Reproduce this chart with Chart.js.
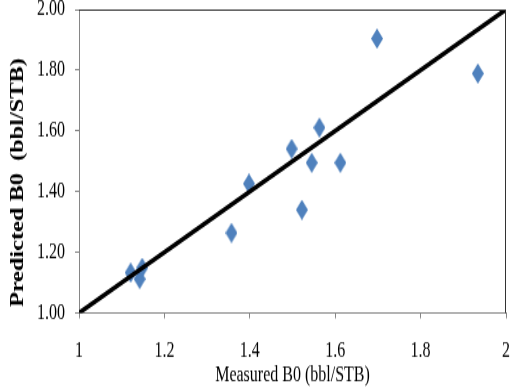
<!DOCTYPE html>
<html><head><meta charset="utf-8">
<script src="https://cdn.jsdelivr.net/npm/chart.js@4"></script>
<style>html,body{margin:0;padding:0;background:#fff;overflow:hidden}canvas{display:block}</style>
</head>
<body>
<canvas id="c" width="511" height="287" style="width:511px;height:388px"></canvas>
<script>
const measured  = [1.121, 1.142, 1.148, 1.357, 1.398, 1.498, 1.522, 1.545, 1.563, 1.612, 1.698, 1.934];
const predicted = [1.133, 1.112, 1.149, 1.264, 1.426, 1.541, 1.340, 1.495, 1.611, 1.495, 1.904, 1.789];
const refLineX = [1, 2];
const refLineY = [1, 2];
const xTicks = [1, 1.2, 1.4, 1.6, 1.8, 2];
const yTicks = [1.0, 1.2, 1.4, 1.6, 1.8, 2.0];
const xTitle = 'Measured B0 (bbl/STB)';
const yTitle = 'Predicted B0  (bbl/STB)';

// diamond marker (tall)
const marker = document.createElement('canvas');
marker.width = 12; marker.height = 15;
(function(){
  const g = marker.getContext('2d');
  g.fillStyle = '#4F81BD';
  g.beginPath();
  g.moveTo(6, 0); g.lineTo(12, 7.5); g.lineTo(6, 15); g.lineTo(0, 7.5);
  g.closePath(); g.fill();
})();

const FONT = 'Liberation Serif, Times New Roman, serif';

const borderPlugin = {
  id: 'frame',
  afterDraw(chart) {
    const {ctx, chartArea: a} = chart;
    ctx.save();
    ctx.strokeStyle = '#333';
    ctx.lineWidth = 1;
    ctx.beginPath();
    ctx.moveTo(a.left, a.top + 0.5); ctx.lineTo(a.right, a.top + 0.5);
    ctx.moveTo(a.right - 0.5, a.top); ctx.lineTo(a.right - 0.5, a.bottom);
    ctx.stroke();
    ctx.restore();
  }
};

new Chart(document.getElementById('c'), {
  type: 'scatter',
  data: {
    datasets: [
      {
        type: 'line',
        data: refLineX.map((x, i) => ({x, y: refLineY[i]})),
        borderColor: '#000',
        borderWidth: 3.5,
        pointRadius: 0,
        fill: false,
        order: 0
      },
      {
        data: measured.map((x, i) => ({x, y: predicted[i]})),
        pointStyle: marker,
        backgroundColor: '#4F81BD',
        borderColor: '#4F81BD',
        order: 1
      }
    ]
  },
  options: {
    responsive: false,
    animation: false,
    devicePixelRatio: 1,
    layout: {padding: {top: 7, right: 1.5, bottom: 0, left: 0}},
    plugins: {legend: {display: false}, tooltip: {enabled: false}},
    scales: {
      x: {
        type: 'linear', min: 1, max: 2,
        afterBuildTicks(s) { s.ticks = xTicks.map(v => ({value: v})); },
        afterFit(s) { s.height = 55.5; s.paddingLeft = 0; s.paddingRight = 0; },
        grid: {drawOnChartArea: false, drawTicks: true, tickLength: 4, color: '#868686'},
        border: {color: '#868686', width: 1},
        ticks: {
          padding: 14.5, color: '#000', font: {family: FONT, size: 16},
          maxRotation: 0, autoSkip: false,
          callback: v => String(Number(v.toFixed(1)))
        },
        title: {display: true, text: xTitle, color: '#000', font: {family: FONT, size: 16}, padding: {top: 0, bottom: 0}}
      },
      y: {
        type: 'linear', min: 1, max: 2,
        afterBuildTicks(s) { s.ticks = yTicks.map(v => ({value: v})); },
        afterFit(s) { s.width = 79; s.paddingTop = 0; s.paddingBottom = 0; },
        grid: {drawOnChartArea: false, drawTicks: true, tickLength: 4, color: '#868686'},
        border: {color: '#868686', width: 1},
        ticks: {
          padding: 10, color: '#000', font: {family: FONT, size: 16},
          autoSkip: false,
          callback: v => v.toFixed(2)
        },
        title: {display: true, text: yTitle + '       ', color: '#000', font: {family: FONT, size: 18, weight: 'bold'}, padding: {top: 7.5, bottom: 0}}
      }
    }
  },
  plugins: [borderPlugin]
});
</script>
</body></html>
